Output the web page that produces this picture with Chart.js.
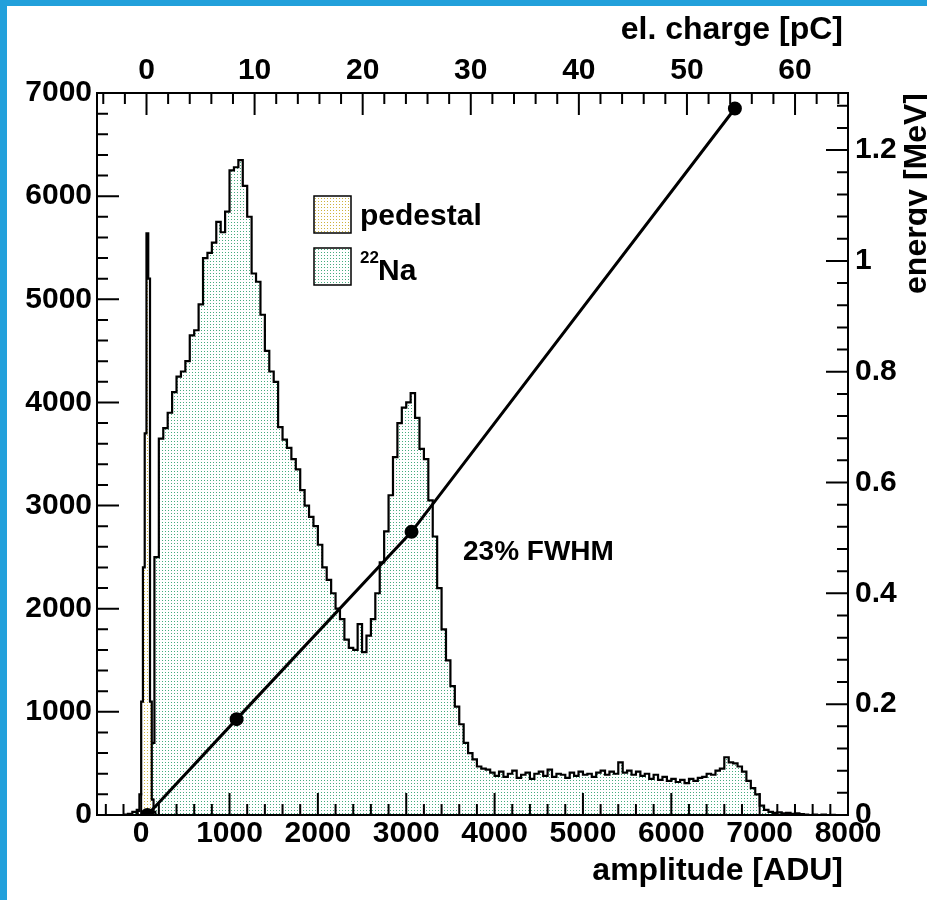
<!DOCTYPE html>
<html>
<head>
<meta charset="utf-8">
<title>22Na spectrum</title>
<script src="https://cdn.jsdelivr.net/npm/chart.js@4.4.0/dist/chart.umd.min.js"></script>
<style>
  html, body { margin: 0; padding: 0; background: #fff; }
  #wrap { position: relative; width: 927px; height: 900px; overflow: hidden; }
  #wrap canvas { position: absolute; left: 0; top: 0; }
  .edge { position: absolute; background: #22a0db; }
</style>
</head>
<body>
<div id="wrap">
  <canvas id="myChart" width="927" height="900"></canvas>
  <div class="edge" style="left:0;top:0;width:927px;height:6px"></div>
  <div class="edge" style="left:0;top:0;width:7px;height:900px"></div>
</div>
<script>
// 22Na spectrum, 50 ADU bins starting at -200 ADU
const naStart = -200;
const naBinWidth = 50;
const naCounts = [
  5, 10, 30, 50,
  60, 150, 700, 2500, 3650, 3750, 3900, 4100, 4250, 4300,        // 0 - 450
  4400, 4650, 4700, 4950, 5400, 5450, 5550, 5750, 5650, 5850,    // 500 - 950
  6250, 6280, 6350, 6100, 5800, 5250, 5170, 4850, 4500, 4300,    // 1000 - 1450
  4200, 3760, 3640, 3560, 3450, 3350, 3150, 3000, 2890, 2800,    // 1500 - 1950
  2620, 2400, 2280, 2150, 2000, 1900, 1700, 1620, 1600, 1850,    // 2000 - 2450
  1580, 1740, 1900, 2150, 2450, 2750, 3100, 3470, 3800, 3950,    // 2500 - 2950
  4000, 4090, 3850, 3550, 3450, 3050, 2700, 2200, 1800, 1500,    // 3000 - 3450
  1250, 1050, 880, 700, 600, 540, 470, 450, 440, 410,            // 3500 - 3950
  380, 420, 370, 400, 430, 360, 390, 410, 350, 400,              // 4000 - 4450
  420, 380, 440, 370, 400, 390, 360, 410, 380, 420,              // 4500 - 4950
  390, 400, 370, 410, 430, 390, 420, 400, 510, 410,              // 5000 - 5450
  430, 390, 420, 380, 400, 350, 390, 340, 370, 330,              // 5500 - 5950
  350, 320, 340, 310, 350, 330, 360, 370, 400, 390,              // 6000 - 6450
  430, 450, 560, 510, 500, 470, 420, 330, 260, 200,              // 6500 - 6950
  90, 50, 30, 20, 25, 15, 20, 10, 15, 8,                         // 7000 - 7450
  5, 0, 5, 0, 3, 0, 2, 0, 0, 0                                   // 7500 - 7950
];

// pedestal, 20 ADU bins starting at -60 ADU
const pedStart = -60;
const pedBinWidth = 20;
const pedCounts = [10, 40, 200, 1100, 2400, 3700, 5640, 5200, 1100, 150, 30, 0];

// energy calibration points
const calAdu = [70, 1080, 3060, 6720];
const calMeV = [0, 0.173, 0.511, 1.275];

// axis tick labels
const aduTicks = [0, 1000, 2000, 3000, 4000, 5000, 6000, 7000, 8000];
const chargeTicks = [0, 10, 20, 30, 40, 50, 60];
const countTicks = [0, 1000, 2000, 3000, 4000, 5000, 6000, 7000];
const energyTicks = [0, 0.2, 0.4, 0.6, 0.8, 1, 1.2];

const FONT = "'Liberation Sans', Arial, Helvetica, sans-serif";
Chart.defaults.font.family = FONT;
Chart.defaults.color = '#000';

function histPoints(start, width, counts) {
  const pts = counts.map((c, i) => ({ x: start + i * width, y: c }));
  pts.push({ x: start + counts.length * width, y: 0 });
  return pts;
}

// dotted fill like the ROOT pattern
function dotPattern(ctx, dot) {
  const c = document.createElement('canvas');
  c.width = 3; c.height = 3;
  const g = c.getContext('2d');
  g.fillStyle = '#fff';
  g.fillRect(0, 0, 3, 3);
  g.fillStyle = dot;
  g.fillRect(0, 0, 1, 1);
  return ctx.createPattern(c, 'repeat');
}

const ctx = document.getElementById('myChart').getContext('2d');
const naFill = dotPattern(ctx, 'rgb(70,172,126)');
const pedFill = dotPattern(ctx, 'rgb(205,178,60)');

function setTicks(values) {
  return scale => { scale.ticks = values.map(v => ({ value: v })); };
}

function range(from, to, step) {
  const out = [];
  for (let v = from; v <= to + 1e-9; v += step) out.push(Math.round(v * 1000) / 1000);
  return out;
}

const rootAxes = {
  id: 'rootAxes',
  afterDatasetsDraw(chart) {
    const { ctx, chartArea: a, scales } = chart;
    ctx.save();
    ctx.strokeStyle = '#000';
    ctx.lineWidth = 2;
    ctx.strokeRect(a.left, a.top, a.right - a.left, a.bottom - a.top);

    const major = 22, minor = 11;
    ctx.beginPath();
    // bottom axis (ADU)
    range(-400, 8000, 200).forEach(v => {
      const p = scales.x.getPixelForValue(v);
      const l = v % 1000 === 0 ? major : minor;
      ctx.moveTo(p, a.bottom); ctx.lineTo(p, a.bottom - l);
    });
    // top axis (pC)
    range(-4, 64, 2).forEach(v => {
      const p = scales.x2.getPixelForValue(v);
      const l = v % 10 === 0 ? major : minor;
      ctx.moveTo(p, a.top); ctx.lineTo(p, a.top + l);
    });
    // left axis (counts)
    range(0, 7000, 200).forEach(v => {
      const p = scales.y.getPixelForValue(v);
      const l = v % 1000 === 0 ? major : minor;
      ctx.moveTo(a.left, p); ctx.lineTo(a.left + l, p);
    });
    // right axis (MeV)
    range(0, 1.28, 0.04).forEach(v => {
      const p = scales.y2.getPixelForValue(v);
      const l = Math.abs(v * 5 - Math.round(v * 5)) < 1e-6 ? major : minor;
      ctx.moveTo(a.right, p); ctx.lineTo(a.right - l, p);
    });
    ctx.stroke();
    ctx.restore();
  },
  afterDraw(chart) {
    const { ctx } = chart;
    ctx.save();
    ctx.fillStyle = '#000';

    // axis titles
    ctx.font = 'bold 32px ' + FONT;
    ctx.textAlign = 'right';
    ctx.textBaseline = 'alphabetic';
    ctx.fillText('el. charge [pC]', 843, 39);
    ctx.fillText('amplitude [ADU]', 843, 880);

    ctx.save();
    ctx.translate(926, 93);
    ctx.rotate(-Math.PI / 2);
    ctx.fillText('energy [MeV]', 0, 0);
    ctx.restore();

    // legend
    ctx.lineWidth = 1.5;
    ctx.strokeStyle = '#000';
    ctx.fillStyle = pedFill;
    ctx.fillRect(314, 196, 37, 37);
    ctx.strokeRect(314, 196, 37, 37);
    ctx.fillStyle = naFill;
    ctx.fillRect(314, 248, 37, 37);
    ctx.strokeRect(314, 248, 37, 37);

    ctx.fillStyle = '#000';
    ctx.textAlign = 'left';
    ctx.font = 'bold 30px ' + FONT;
    ctx.fillText('pedestal', 360, 225);
    ctx.font = 'bold 17px ' + FONT;
    ctx.fillText('22', 360, 263);
    ctx.font = 'bold 30px ' + FONT;
    ctx.fillText('Na', 378, 280);

    ctx.font = 'bold 28px ' + FONT;
    ctx.fillText('23% FWHM', 463, 560);
    ctx.restore();
  }
};

const tickFont = { size: 30, weight: 'bold', lineHeight: 1 };
const plain = v => String(Math.round(v * 10) / 10);

new Chart(ctx, {
  type: 'line',
  data: {
    datasets: [
      {
        label: 'calibration',
        data: calAdu.map((x, i) => ({ x: x, y: calMeV[i] })),
        xAxisID: 'x',
        yAxisID: 'y2',
        borderColor: '#000',
        borderWidth: 3,
        pointRadius: 5.5,
        pointBackgroundColor: '#000',
        pointBorderColor: '#000',
        tension: 0,
        fill: false
      },
      {
        label: 'pedestal',
        data: histPoints(pedStart, pedBinWidth, pedCounts),
        xAxisID: 'x',
        yAxisID: 'y',
        stepped: 'before',
        borderColor: '#000',
        borderWidth: 2.2,
        pointRadius: 0,
        backgroundColor: pedFill,
        fill: 'origin'
      },
      {
        label: '22Na',
        data: histPoints(naStart, naBinWidth, naCounts),
        xAxisID: 'x',
        yAxisID: 'y',
        stepped: 'before',
        borderColor: '#000',
        borderWidth: 2.2,
        pointRadius: 0,
        backgroundColor: naFill,
        fill: 'origin'
      }
    ]
  },
  options: {
    responsive: false,
    animation: false,
    devicePixelRatio: 1,
    layout: { padding: 0 },
    plugins: { legend: { display: false }, tooltip: { enabled: false } },
    scales: {
      x: {
        type: 'linear', position: 'bottom', min: -500, max: 8000,
        afterBuildTicks: setTicks(aduTicks),
        afterFit: s => { s.height = 85; },
        grid: { display: false, drawTicks: false },
        border: { display: false },
        ticks: { font: tickFont, padding: 4, maxRotation: 0, autoSkip: false, callback: plain }
      },
      x2: {
        type: 'linear', position: 'top', min: -4.58, max: 64.9,
        afterBuildTicks: setTicks(chargeTicks),
        afterFit: s => { s.height = 93; },
        grid: { display: false, drawTicks: false },
        border: { display: false },
        ticks: { font: tickFont, padding: 7, maxRotation: 0, autoSkip: false, callback: plain }
      },
      y: {
        type: 'linear', position: 'left', min: 0, max: 7000,
        afterBuildTicks: setTicks(countTicks),
        afterFit: s => { s.width = 97; },
        grid: { display: false, drawTicks: false },
        border: { display: false },
        ticks: { font: tickFont, padding: 5, autoSkip: false, callback: plain }
      },
      y2: {
        type: 'linear', position: 'right', min: 0, max: 1.303,
        afterBuildTicks: setTicks(energyTicks),
        afterFit: s => { s.width = 79; },
        grid: { display: false, drawTicks: false },
        border: { display: false },
        ticks: { font: tickFont, padding: 7, autoSkip: false, callback: plain }
      }
    }
  },
  plugins: [rootAxes]
});
</script>
</body>
</html>
